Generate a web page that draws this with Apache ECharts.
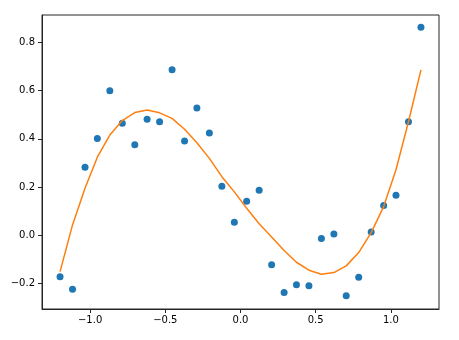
<!DOCTYPE html>
<html>
<head>
<meta charset="utf-8">
<script src="https://cdn.jsdelivr.net/npm/echarts@6/dist/echarts.min.js"></script>
<style>
html,body{margin:0;padding:0;background:#fff;}
#chart{width:459px;height:340px;}
</style>
</head>
<body>
<div id="chart"></div>
<script>
const xValues = [-1.2, -1.117, -1.034, -0.952, -0.869, -0.786, -0.703, -0.621, -0.538, -0.455,
  -0.372, -0.290, -0.207, -0.124, -0.041, 0.041, 0.124, 0.207, 0.290, 0.372,
  0.455, 0.538, 0.621, 0.703, 0.786, 0.869, 0.952, 1.034, 1.117, 1.2];
const yScatter = [-0.172, -0.224, 0.282, 0.402, 0.600, 0.465, 0.376, 0.481, 0.471, 0.687,
  0.391, 0.528, 0.424, 0.203, 0.054, 0.141, 0.187, -0.122, -0.238, -0.205,
  -0.210, -0.013, 0.005, -0.251, -0.174, 0.014, 0.123, 0.166, 0.471, 0.863];
const yFit = [-0.151, 0.043, 0.195, 0.324, 0.416, 0.476, 0.509, 0.520, 0.508, 0.485,
  0.440, 0.384, 0.319, 0.243, 0.180, 0.112, 0.048, -0.007, -0.063, -0.112,
  -0.145, -0.162, -0.155, -0.127, -0.072, 0.011, 0.119, 0.272, 0.471, 0.686];
const xTicks = [-1.0, -0.5, 0.0, 0.5, 1.0];
const yTicks = [-0.2, 0.0, 0.2, 0.4, 0.6, 0.8];

const fmt = v => (v < 0 ? '\u2212' : '') + Math.abs(v).toFixed(1);
const axisColor = '#262626';
const chart = echarts.init(document.getElementById('chart'), null, {renderer: 'canvas'});
chart.setOption({
  animation: false,
  backgroundColor: '#fff',
  grid: {left: 42, right: 20, top: 15, bottom: 31, show: true, borderColor: axisColor, borderWidth: 1, backgroundColor: 'transparent'},
  xAxis: {
    type: 'value', min: -1.32, max: 1.32,
    splitLine: {show: false},
    axisLine: {show: true, onZero: false, lineStyle: {color: axisColor, width: 1}},
    axisTick: {show: true, length: 4, customValues: xTicks, lineStyle: {color: axisColor}},
    axisLabel: {customValues: xTicks, formatter: fmt, margin: 6, color: '#000', fontFamily: 'DejaVu Sans', fontSize: 10}
  },
  yAxis: {
    type: 'value', min: -0.306, max: 0.914,
    splitLine: {show: false},
    axisLine: {show: true, onZero: false, lineStyle: {color: axisColor, width: 1}},
    axisTick: {show: true, length: 4, customValues: yTicks, lineStyle: {color: axisColor}},
    axisLabel: {customValues: yTicks, formatter: fmt, margin: 7, color: '#000', fontFamily: 'DejaVu Sans', fontSize: 10}
  },
  series: [
    {
      type: 'scatter', z: 2,
      data: xValues.map((x, i) => [x, yScatter[i]]),
      symbol: 'circle', symbolSize: 7,
      itemStyle: {color: '#1f77b4', opacity: 1}
    },
    {
      type: 'line', z: 3,
      data: xValues.map((x, i) => [x, yFit[i]]),
      showSymbol: false, symbol: 'none',
      lineStyle: {color: '#ff7f0e', width: 1.5}
    }
  ]
});
</script>
</body>
</html>
